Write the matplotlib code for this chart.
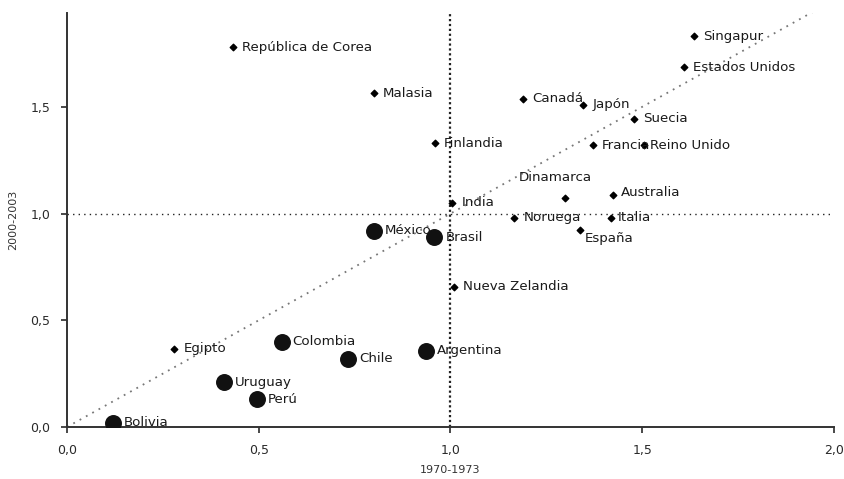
#!/usr/bin/env python3
import matplotlib
matplotlib.use("Agg")
import matplotlib.pyplot as plt
from matplotlib.ticker import FuncFormatter

# small markers (rest of the world)
paises = ["República de Corea", "Malasia", "Finlandia", "Canadá", "Japón",
          "Singapur", "Estados Unidos", "Suecia", "Francia", "Reino Unido",
          "Dinamarca", "Australia", "India", "Noruega", "Italia", "España",
          "Nueva Zelandia", "Egipto"]
x_paises = [0.434, 0.80, 0.96, 1.19, 1.347, 1.635, 1.61, 1.478, 1.373, 1.505,
            1.30, 1.425, 1.005, 1.167, 1.418, 1.337, 1.01, 0.28]
y_paises = [1.78, 1.565, 1.33, 1.535, 1.51, 1.83, 1.685, 1.445, 1.32, 1.32,
            1.075, 1.085, 1.05, 0.98, 0.98, 0.925, 0.657, 0.366]

# large markers (America Latina)
latam = ["México", "Brasil", "Colombia", "Chile", "Argentina", "Uruguay",
         "Perú", "Bolivia"]
x_latam = [0.80, 0.958, 0.56, 0.734, 0.937, 0.41, 0.496, 0.12]
y_latam = [0.92, 0.89, 0.40, 0.32, 0.357, 0.21, 0.13, 0.02]

# label offsets in pixels where they differ from the default
offsets = {"Dinamarca": (-47, 20), "España": (5, -9), "Reino Unido": (6, 0),
           "Italia": (7, 0), "Australia": (7, 3), "Canadá": (9, 1),
           "Francia": (8, 0)}

TXT = "#1a1a1a"


def fmt(v, pos):
    return ("%.1f" % v).replace(".", ",")


def label(ax, name, x, y, dx):
    ox, oy = offsets.get(name, (dx, 0))
    ax.annotate(name, (x, y), xytext=(ox, oy), textcoords="offset pixels",
                ha="left", va="center", fontsize=9.6, color=TXT,
                family="DejaVu Sans")


def main():
    fig = plt.figure(figsize=(8.44, 4.79), dpi=100)
    ax = fig.add_axes([0.0794, 0.1086, 0.9086, 0.8643])

    ax.plot([0, 2.0], [0, 2.0], ls=(0, (1, 3)), color="#777777", lw=1.3,
            zorder=1)
    ax.axhline(1.0, ls=(0, (1, 3)), color="#222222", lw=1.0, zorder=1)
    ax.axvline(1.0, ls=(0, (1, 1.2)), color="#222222", lw=1.6, zorder=1)

    ax.scatter(x_paises, y_paises, marker="D", s=11, color="black", zorder=3)
    ax.scatter(x_latam, y_latam, marker="o", s=125, color="#111111",
               zorder=3)

    for n, x, y in zip(paises, x_paises, y_paises):
        label(ax, n, x, y, 9)
    for n, x, y in zip(latam, x_latam, y_latam):
        label(ax, n, x, y, 11)

    ax.set_xlim(0, 2.0)
    ax.set_ylim(0, 1.94)
    ax.set_xticks([0, 0.5, 1.0, 1.5, 2.0])
    ax.set_yticks([0, 0.5, 1.0, 1.5])
    ax.xaxis.set_major_formatter(FuncFormatter(fmt))
    ax.yaxis.set_major_formatter(FuncFormatter(fmt))
    ax.tick_params(labelsize=9, colors="#2a2a2a", length=4, width=1.2,
                   pad=8)
    for s in ["top", "right"]:
        ax.spines[s].set_visible(False)
    for s in ["left", "bottom"]:
        ax.spines[s].set_color("#333333")
        ax.spines[s].set_linewidth(1.4)

    ax.set_xlabel("1970-1973", fontsize=8, color="#333333", labelpad=6)
    ax.set_ylabel("2000-2003", fontsize=8, color="#333333", labelpad=9)

    fig.savefig("out.png", dpi=100)


if __name__ == '__main__':
    main()
